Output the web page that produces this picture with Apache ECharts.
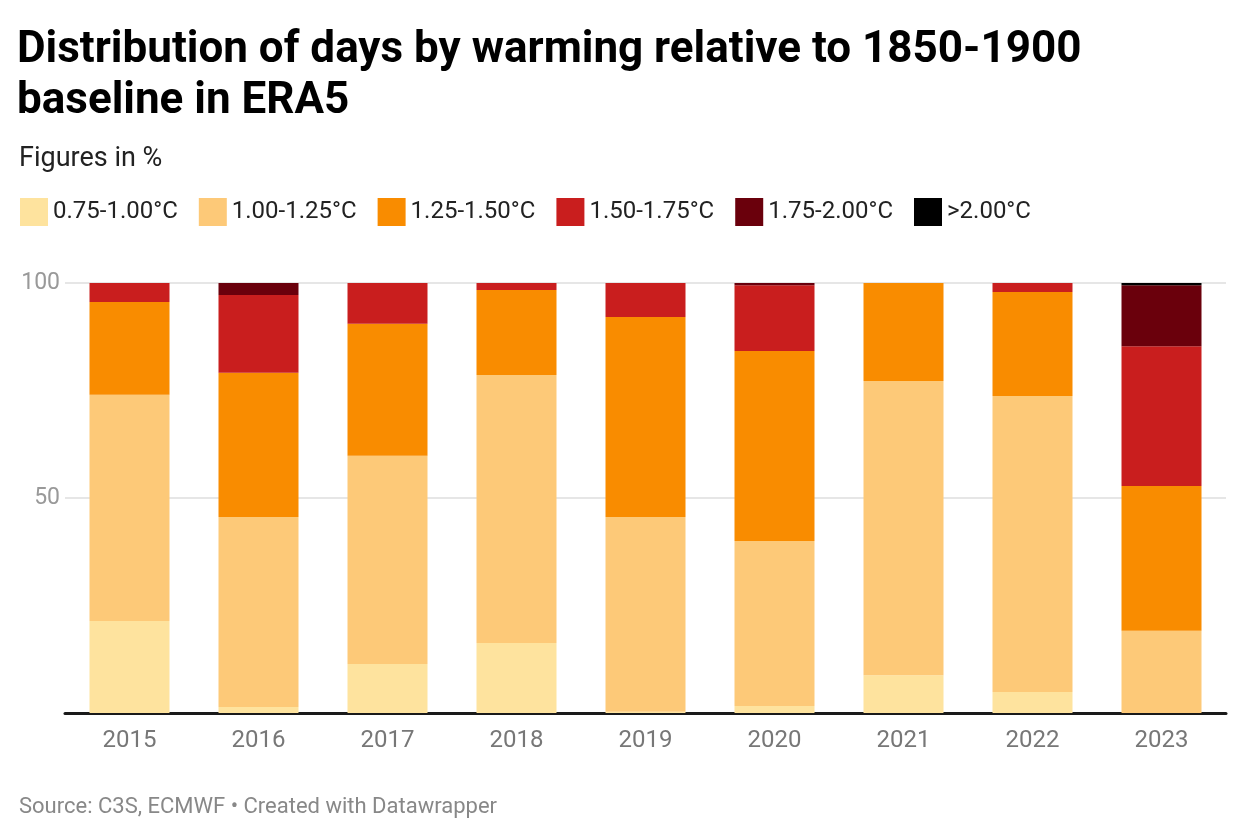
<!DOCTYPE html>
<html>
<head>
<meta charset="utf-8">
<script src="https://cdn.jsdelivr.net/npm/echarts@6/dist/echarts.min.js"></script>
<style>
  html, body { margin: 0; padding: 0; background: #fff; }
  #chart { width: 1240px; height: 840px; }
</style>
</head>
<body>
<div id="chart"></div>
<script>
// years on the x axis
var years = ['2015', '2016', '2017', '2018', '2019', '2020', '2021', '2022', '2023'];
// share of days (%) in each warming band, per year
var band075 = [21.4, 1.4, 11.4, 16.3, 0.3, 1.6, 8.8, 4.9, 0];
var band100 = [52.6, 44.2, 48.4, 62.3, 45.3, 38.4, 68.4, 68.8, 19.1];
var band125 = [21.6, 33.5, 30.7, 19.8, 46.5, 44.2, 22.8, 24.2, 33.7];
var band150 = [4.4, 18.1, 9.5, 1.6, 7.9, 15.3, 0, 2.1, 32.5];
var band175 = [0, 2.8, 0, 0, 0, 0.5, 0, 0, 14.2];
var band200 = [0, 0, 0, 0, 0, 0, 0, 0, 0.5];
var bandNames = ['0.75-1.00°C', '1.00-1.25°C', '1.25-1.50°C', '1.50-1.75°C', '1.75-2.00°C', '>2.00°C'];
var bandColors = ['#fee39e', '#fdc978', '#f98c00', '#c91e1e', '#6a000c', '#000000'];
var yTicks = [0, 50, 100];

var chart = echarts.init(document.getElementById('chart'));
var font = 'Roboto, sans-serif';

var bands = [band075, band100, band125, band150, band175, band200];
var series = bands.map(function (d, i) {
  return {
    name: bandNames[i],
    type: 'bar',
    stack: 'total',
    barWidth: 80,
    itemStyle: { color: bandColors[i] },
    emphasis: { disabled: true },
    data: d
  };
});

var option = {
  animation: false,
  textStyle: { fontFamily: font },
  title: [
    {
      text: 'Distribution of days by warming relative to 1850-1900\nbaseline in ERA5',
      left: 17, top: 25, padding: 0,
      textStyle: { fontSize: 44, fontWeight: 'bold', color: '#000', lineHeight: 51, fontFamily: font }
    },
    {
      text: 'Figures in %',
      left: 19, top: 146, padding: 0,
      textStyle: { fontSize: 27, fontWeight: 'normal', color: '#222', fontFamily: font }
    },
    {
      text: 'Source: C3S, ECMWF • Created with Datawrapper',
      left: 19, top: 796, padding: 0,
      textStyle: { fontSize: 22, fontWeight: 'normal', color: '#888', fontFamily: font }
    }
  ],
  legend: {
    left: 20, top: 198, padding: 0,
    itemWidth: 28, itemHeight: 28, itemGap: 21,
    icon: 'rect',
    selectedMode: false,
    textStyle: { fontSize: 24, color: '#222', fontFamily: font },
    data: bandNames
  },
  grid: { left: 65, right: 14, top: 283, bottom: 127 },
  xAxis: {
    type: 'category',
    data: years,
    axisTick: { show: false },
    axisLine: { lineStyle: { color: '#1a1a1a', width: 3 } },
    axisLabel: { fontSize: 24, color: '#777', margin: 16, fontFamily: font }
  },
  yAxis: {
    type: 'value',
    min: yTicks[0], max: yTicks[2], interval: yTicks[1] - yTicks[0],
    axisLine: { show: false },
    axisTick: { show: false },
    splitLine: { lineStyle: { color: '#e6e6e6', width: 2 } },
    axisLabel: {
      fontSize: 23, color: '#999', margin: 5, fontFamily: font,
      formatter: function (v) { return v === 0 ? '' : v; }
    }
  },
  series: series
};

chart.setOption(option);
</script>
</body>
</html>
